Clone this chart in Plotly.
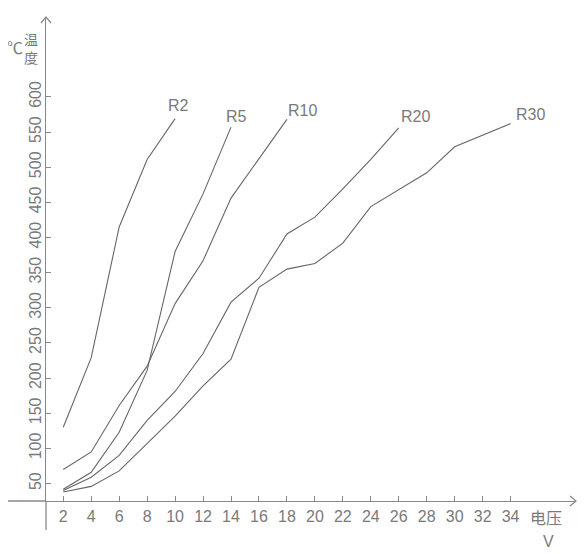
import plotly.graph_objects as go

# Data (voltage V vs temperature ℃)
x_r2 = [2, 4, 6, 8, 10]
y_r2 = [130, 229, 415, 511, 569]

x_r5 = [2, 4, 6, 8, 10, 12, 14]
y_r5 = [42, 66, 123, 211, 380, 462, 557]

x_r10 = [2, 4, 6, 8, 10, 12, 14, 16, 18]
y_r10 = [70, 95, 161, 217, 306, 367, 456, 512, 568]

x_r20 = [2, 4, 6, 8, 10, 12, 14, 16, 18, 20, 22, 24, 26]
y_r20 = [40, 59, 90, 140, 181, 235, 308, 342, 405, 429, 469, 511, 556]

x_r30 = [2, 4, 6, 8, 10, 12, 14, 16, 18, 20, 22, 24, 26, 28, 30, 32, 34]
y_r30 = [38, 46, 68, 107, 146, 189, 227, 329, 355, 363, 392, 444, 468, 492, 529, 545, 562]

series_names = ["R2", "R5", "R10", "R20", "R30"]
x_ticks = list(range(2, 36, 2))
y_ticks = list(range(50, 650, 50))

LINE = "#666666"
AXIS = "#888888"
TEXT = "#7a7a7a"
FONT = "Liberation Sans, Arial, sans-serif"
CJK = "Noto Sans CJK SC, sans-serif"

# page body has an 8px default margin; compensate so the figure lands where the reference is
OFF = 8
W, H = 587 - OFF, 554 - OFF
L, R, T, B = 46 - OFF, 11, 17 - OFF, 53
pw, ph = W - L - R, H - T - B


def px(xp):  # reference pixel x -> paper
    return (xp - OFF - L) / pw


def py(yp):  # reference pixel y -> paper
    return (H - B - (yp - OFF)) / ph


fig = go.Figure()
label_shift = {"R2": (3, 13), "R5": (5, 11), "R10": (16, 9), "R20": (17, 11), "R30": (20, 9)}
annotations = []
for name, xs, ys in zip(series_names, [x_r2, x_r5, x_r10, x_r20, x_r30],
                        [y_r2, y_r5, y_r10, y_r20, y_r30]):
    fig.add_trace(go.Scatter(x=xs, y=ys, mode="lines", name=name,
                             line=dict(color=LINE, width=1.1), showlegend=False,
                             hoverinfo="x+y+name"))
    dx, dy = label_shift[name]
    annotations.append(dict(x=xs[-1], y=ys[-1], xref="x", yref="y", text=name,
                            showarrow=False, xshift=dx, yshift=dy,
                            xanchor="center", yanchor="middle",
                            font=dict(family=FONT, size=16, color=TEXT)))


def label(x, y, text, font, size):
    return dict(x=px(x), y=py(y), xref="paper", yref="paper", text=text, showarrow=False,
                xanchor="center", yanchor="middle",
                font=dict(family=font, size=size, color=TEXT))


annotations += [
    label(15, 47, "℃", CJK, 16),
    label(31, 48, "温<br>度", CJK, 14),
    label(546, 517, "电压", CJK, 16),
    label(548, 541, "V", FONT, 16),
]

shapes = [
    # x-axis extension to the left
    dict(type="line", xref="paper", yref="paper", x0=px(0), x1=px(46), y0=py(501), y1=py(501),
         line=dict(color=AXIS, width=1.3)),
    # y-axis extension downward
    dict(type="line", xref="paper", yref="paper", x0=px(46), x1=px(46), y0=py(501), y1=py(530),
         line=dict(color=AXIS, width=1.3)),
    # arrowheads
    dict(type="path", xref="paper", yref="paper",
         path=f"M {px(41)} {py(23)} L {px(46)} {py(17)} L {px(51)} {py(23)}",
         line=dict(color=AXIS, width=1.2)),
    dict(type="path", xref="paper", yref="paper",
         path=f"M {px(570)} {py(496)} L {px(576)} {py(501)} L {px(570)} {py(506)}",
         line=dict(color=AXIS, width=1.2)),
]

fig.update_layout(
    width=W, height=H,
    margin=dict(l=L, r=R, t=T, b=B),
    paper_bgcolor="white", plot_bgcolor="white",
    annotations=annotations, shapes=shapes,
    xaxis=dict(range=[0.765, 38.68], tickvals=x_ticks, showgrid=False, zeroline=False,
               showline=True, linecolor=AXIS, linewidth=1.3,
               ticks="inside", ticklen=5, tickcolor=AXIS, tickwidth=1.2,
               tickfont=dict(family=FONT, size=16, color=TEXT), ticklabelstandoff=1),
    yaxis=dict(range=[25.2, 713.6], tickvals=y_ticks, showgrid=False, zeroline=False,
               showline=True, linecolor=AXIS, linewidth=1.3,
               ticks="inside", ticklen=5, tickcolor=AXIS, tickwidth=1.2, tickangle=-90,
               tickfont=dict(family=FONT, size=16, color=TEXT), ticklabelstandoff=-3),
)

fig.write_html("out.html")
